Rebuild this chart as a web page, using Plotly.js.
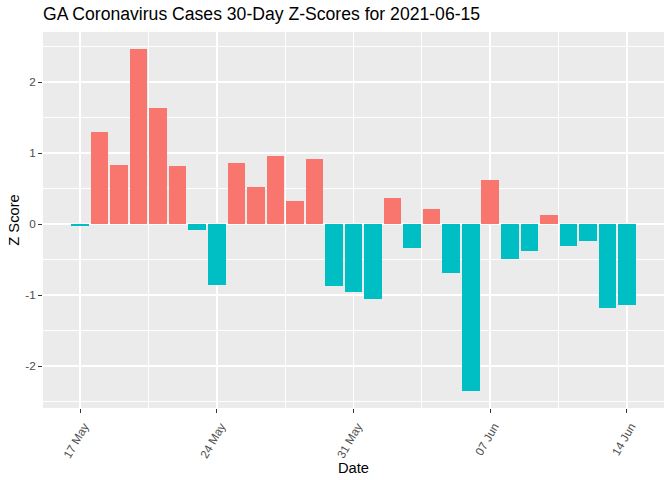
<!DOCTYPE html>
<html>
<head>
<meta charset="utf-8">
<script src="https://cdn.plot.ly/plotly-3.0.1.min.js"></script>
<style>html,body{margin:0;padding:0;background:#fff;}#chart{width:672px;height:480px;}</style>
</head>
<body>
<div id="chart"></div>
<script>
const dates = [
  '2021-05-17','2021-05-18','2021-05-19','2021-05-20','2021-05-21','2021-05-22','2021-05-23',
  '2021-05-24','2021-05-25','2021-05-26','2021-05-27','2021-05-28','2021-05-29','2021-05-30',
  '2021-05-31','2021-06-01','2021-06-02','2021-06-03','2021-06-04','2021-06-05','2021-06-06',
  '2021-06-07','2021-06-08','2021-06-09','2021-06-10','2021-06-11','2021-06-12','2021-06-13',
  '2021-06-14'
];
const zScores = [
  -0.03, 1.30, 0.84, 2.47, 1.64, 0.82, -0.08,
  -0.86, 0.86, 0.53, 0.96, 0.33, 0.92, -0.87,
  -0.95, -1.05, 0.37, -0.33, 0.21, -0.69, -2.35,
  0.62, -0.49, -0.38, 0.13, -0.31, -0.23, -1.18,
  -1.14
];
const xTickVals = ['2021-05-17','2021-05-24','2021-05-31','2021-06-07','2021-06-14'];
const xTickText = ['17 May','24 May','31 May','07 Jun','14 Jun'];
const yTickVals = [-2, -1, 0, 1, 2];
const yTickText = ['-2', '-1', '0', '1', '2'];

const posColor = '#F8766D', negColor = '#00BFC4';
const DAY = 86400000;

const trace = {
  type: 'bar',
  x: dates,
  y: zScores,
  width: 0.9 * DAY,
  marker: {color: zScores.map(v => v > 0 ? posColor : negColor), line: {width: 0}},
  hoverinfo: 'x+y',
  showlegend: false
};

const font = 'Liberation Sans, Arial, sans-serif';
const layout = {
  width: 672, height: 480,
  margin: {l: 43, r: 8, t: 32, b: 72},
  paper_bgcolor: '#FFFFFF',
  plot_bgcolor: '#EBEBEB',
  bargap: 0,
  showlegend: false,
  title: {
    text: 'GA Coronavirus Cases 30-Day Z-Scores for 2021-06-15',
    font: {family: font, size: 17.6, color: '#000000'},
    x: 0, xref: 'paper', xanchor: 'left',
    y: 1, yref: 'container', yanchor: 'top', pad: {t: 8}
  },
  xaxis: {
    type: 'date',
    range: ['2021-05-15 02:31', '2021-06-15 21:29'],
    tickvals: xTickVals,
    ticktext: xTickText,
    tickangle: -60,
    ticklabelshift: 4,
    ticklabelstandoff: 2,
    ticks: 'outside', ticklen: 4, tickwidth: 1, tickcolor: '#333333',
    tickfont: {family: font, size: 11.7, color: '#4D4D4D'},
    showgrid: true, gridcolor: '#FFFFFF', gridwidth: 1.9,
    minor: {tick0: '2021-05-20 12:00', dtick: 7 * DAY, showgrid: true, gridcolor: '#FFFFFF', gridwidth: 0.95, ticks: ''},
    zeroline: false, showline: false,
    title: {text: 'Date', font: {family: font, size: 14.7, color: '#000000'}, standoff: 2},
    fixedrange: true
  },
  yaxis: {
    range: [-2.59, 2.71],
    tickvals: yTickVals,
    ticktext: yTickText,
    ticks: 'outside', ticklen: 4, tickwidth: 1, tickcolor: '#333333',
    tickfont: {family: font, size: 11.7, color: '#4D4D4D'},
    showgrid: true, gridcolor: '#FFFFFF', gridwidth: 1.9,
    minor: {tick0: 0.5, dtick: 1, showgrid: true, gridcolor: '#FFFFFF', gridwidth: 0.95, ticks: ''},
    zeroline: false, showline: false,
    title: {text: 'Z Score', font: {family: font, size: 14.7, color: '#000000'}, standoff: 2},
    fixedrange: true
  }
};

Plotly.newPlot('chart', [trace], layout, {displayModeBar: false, staticPlot: true});
</script>
</body>
</html>
